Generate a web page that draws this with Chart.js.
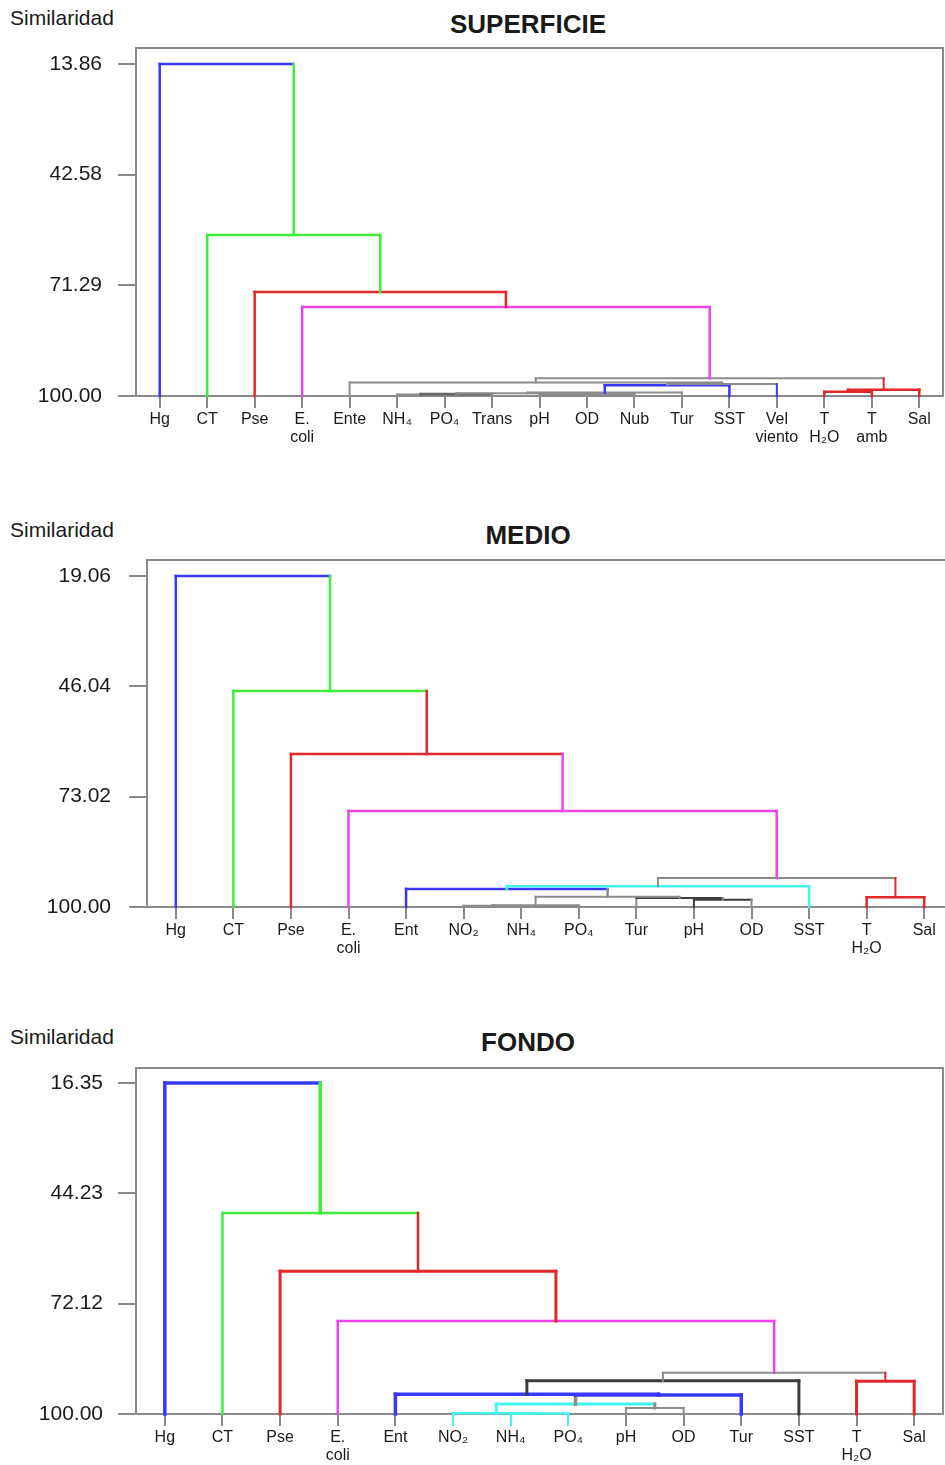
<!DOCTYPE html>
<html>
<head>
<meta charset="utf-8">
<script src="https://cdn.jsdelivr.net/npm/chart.js@4.4.1/dist/chart.umd.min.js"></script>
<style>
  html, body { margin: 0; padding: 0; background: #fff; overflow: hidden; }
  body { width: 945px; height: 1465px; position: relative; font-family: "Liberation Sans", Arial, sans-serif; color: #1a1a1a; }
  .lbl { position: absolute; left: 10px; font-size: 21px; line-height: 22px; white-space: nowrap; }
  .ttl { position: absolute; left: 328px; width: 400px; text-align: center; font-size: 26px; font-weight: bold; line-height: 28px; }
  .box { position: absolute; left: 0; }
</style>
</head>
<body>
<div class="lbl" style="top:7px">Similaridad</div>
<div class="ttl" style="top:10px">SUPERFICIE</div>
<div class="box" style="top:0px;width:945px;height:470px"><canvas id="sup"></canvas></div>

<div class="lbl" style="top:519px">Similaridad</div>
<div class="ttl" style="top:521px">MEDIO</div>
<div class="box" style="top:510px;width:960px;height:470px"><canvas id="med"></canvas></div>

<div class="lbl" style="top:1026px">Similaridad</div>
<div class="ttl" style="top:1028px">FONDO</div>
<div class="box" style="top:1020px;width:945px;height:445px"><canvas id="fon"></canvas></div>

<script>
// ---- data ----
// merges: [a, b, similarity]; negative = leaf (1-based), positive = earlier merge row (1-based)

const supLeaves = ['Hg', 'CT', 'Pse', ['E.', 'coli'], 'Ente', 'NH₄', 'PO₄', 'Trans', 'pH', 'OD', 'Nub', 'Tur', 'SST', ['Vel', 'viento'], ['T', 'H₂O'], ['T', 'amb'], 'Sal'];
const supTicks = [13.86, 42.58, 71.29, 100.00];
const supMerges = [
  [-6, -7, 99.6],
  [1, -8, 99.5],
  [-9, -10, 99.7],
  [3, -11, 99.5],
  [2, 4, 99.3],
  [5, -12, 99.1],
  [6, -13, 97.2],
  [7, -14, 96.9],
  [-5, 8, 96.5],
  [-15, -16, 98.9],
  [10, -17, 98.4],
  [9, 11, 95.4],
  [-4, 12, 76.9],
  [-3, 13, 73.0],
  [-2, 14, 58.2],
  [-1, 15, 13.86]
];

const medLeaves = ['Hg', 'CT', 'Pse', ['E.', 'coli'], 'Ent', 'NO₂', 'NH₄', 'PO₄', 'Tur', 'pH', 'OD', 'SST', ['T', 'H₂O'], 'Sal'];
const medTicks = [19.06, 46.04, 73.02, 100.00];
const medMerges = [
  [-6, -7, 99.7],
  [1, -8, 99.6],
  [-10, -11, 98.2],
  [-9, 3, 97.8],
  [2, 4, 97.5],
  [-5, 5, 95.6],
  [6, -12, 94.9],
  [-13, -14, 97.6],
  [7, 8, 92.9],
  [-4, 9, 76.5],
  [-3, 10, 62.6],
  [-2, 11, 47.2],
  [-1, 12, 19.06]
];

const fonLeaves = ['Hg', 'CT', 'Pse', ['E.', 'coli'], 'Ent', 'NO₂', 'NH₄', 'PO₄', 'pH', 'OD', 'Tur', 'SST', ['T', 'H₂O'], 'Sal'];
const fonTicks = [16.35, 44.23, 72.12, 100.00];
const fonMerges = [
  [-7, -8, 99.9],
  [-6, 1, 99.8],
  [-9, -10, 98.5],
  [2, 3, 97.5],
  [4, -11, 95.2],
  [-5, 5, 95.0],
  [6, -12, 91.6],
  [-13, -14, 91.7],
  [7, 8, 89.6],
  [-4, 9, 76.5],
  [-3, 10, 63.9],
  [-2, 11, 49.2],
  [-1, 12, 16.35]
];

// ---- styles ----
const B = '#3838ff', G = '#3cf03c', R = '#e02828', M = '#ee44ee', C = '#44f4f0';
const L = '#8c8c8c', D = '#3c3c3c', N = '#666666';

// colours per merge: [left leg, bar, right leg]
const supColors = [
  [L, L, L], [N, N, L], [L, L, L], [L, L, L], [L, L, L], [L, L, L],
  [B, B, B], [L, L, B], [L, L, L], [R, R, R], [R, R, R], [L, L, R],
  [M, M, M], [R, R, R], [G, G, G], [B, B, G]
];
const supWidths = [2, 2.5, 2, 2, 2, 2, 2.5, 2, 2, 2.5, 2.5, 2, 2.5, 2.5, 2.5, 2.5];

const medColors = [
  [L, L, L], [L, L, L], [D, D, L], [L, D, L], [L, L, L], [B, B, L],
  [C, C, C], [R, R, R], [L, L, R], [M, M, M], [R, R, M], [G, G, R], [B, B, G]
];
const medWidths = [2, 2, 2, 2, 2, 2.5, 2.5, 2.5, 2, 2.5, 2.5, 2.5, 2.5];

const fonColors = [
  [C, C, C], [C, C, C], [L, L, L], [C, C, L], [L, B, B], [B, B, B],
  [D, D, D], [R, R, R], [L, L, R], [M, M, M], [R, R, R], [G, G, R], [B, B, G]
];
const fonWidths = [2.5, 2.5, 2, 3, 3.5, 3.5, 3, 3, 2, 2.5, 3, 2.5, 3.5];

const FRAME = '#8a8a8a';
const FONT = '"Liberation Sans", Arial, sans-serif';

function buildLinks(merges, colors, widths) {
  const nx = [], nh = [];
  const at = ref => ref < 0 ? [-ref - 1, 100] : [nx[ref - 1], nh[ref - 1]];
  const sets = [];
  const seg = (pts, color, w) => ({
    data: pts.map(p => ({ x: p[0], y: p[1] })),
    borderColor: color, borderWidth: w, showLine: true,
    pointRadius: 0, fill: false, tension: 0, clip: false,
    borderCapStyle: 'square', borderJoinStyle: 'miter'
  });
  merges.forEach(([a, b, s], i) => {
    const [xa, ha] = at(a), [xb, hb] = at(b);
    nx[i] = (xa + xb) / 2;
    nh[i] = s;
    const [cl, cb, cr] = colors[i];
    sets.push(seg([[xa, ha], [xa, s]], cl, widths[i]));
    sets.push(seg([[xa, s], [xb, s]], cb, widths[i]));
    sets.push(seg([[xb, s], [xb, hb]], cr, widths[i]));
  });
  return sets.reverse();
}

function dendro(id, leaves, ticks, merges, colors, widths, box) {
  const fixW = w => s => { s.width = w; };
  const fixH = h => s => { s.height = h; };
  new Chart(document.getElementById(id), {
    type: 'scatter',
    data: { datasets: buildLinks(merges, colors, widths) },
    options: {
      responsive: true,
      maintainAspectRatio: false,
      animation: false,
      events: [],
      layout: { padding: { top: box.top, right: box.right, left: 0, bottom: 0 } },
      plugins: { legend: { display: false }, tooltip: { enabled: false }, title: { display: false } },
      scales: {
        x: {
          type: 'linear', position: 'bottom',
          min: -0.5, max: leaves.length - 0.5,
          afterBuildTicks: s => { s.ticks = leaves.map((_, i) => ({ value: i })); },
          afterFit: fixH(box.xh),
          ticks: {
            autoSkip: false, maxRotation: 0, padding: 3,
            color: '#1a1a1a', font: { family: FONT, size: 16, lineHeight: 1.125 },
            callback: (v, i) => leaves[i]
          },
          grid: {
            drawOnChartArea: false, drawTicks: true, tickLength: 12, lineWidth: 2,
            color: ctx => (box.cyanTicks || []).includes(ctx.index) ? C : FRAME
          },
          border: { display: true, color: FRAME, width: 2 }
        },
        xTop: {
          type: 'linear', position: 'top', min: 0, max: 1,
          afterFit: fixH(0),
          ticks: { display: false },
          grid: { display: false },
          border: { display: true, color: FRAME, width: 2 }
        },
        y: {
          type: 'linear', position: 'left', reverse: true,
          min: box.ymin, max: 100,
          afterBuildTicks: s => { s.ticks = ticks.map(v => ({ value: v })); },
          afterFit: fixW(box.left),
          ticks: {
            padding: box.ypad, color: '#1a1a1a',
            font: { family: FONT, size: 21 },
            callback: v => v.toFixed(2)
          },
          grid: { drawOnChartArea: false, drawTicks: true, tickLength: 18, lineWidth: 2, color: FRAME },
          border: { display: true, color: FRAME, width: 2 }
        },
        yRight: {
          type: 'linear', position: 'right', min: 0, max: 1,
          afterFit: fixW(0),
          ticks: { display: false },
          grid: { display: false },
          border: { display: true, color: FRAME, width: 2 }
        }
      }
    }
  });
}

dendro('sup', supLeaves, supTicks, supMerges, supColors, supWidths,
  { top: 48, right: 2, left: 136, xh: 74, ymin: 9.71, ypad: 16 });
dendro('med', medLeaves, medTicks, medMerges, medColors, medWidths,
  { top: 50, right: 7, left: 147, xh: 73, ymin: 15.15, ypad: 18 });
dendro('fon', fonLeaves, fonTicks, fonMerges, fonColors, fonWidths,
  { top: 48, right: 2, left: 136, xh: 51, ymin: 12.56, ypad: 15, cyanTicks: [5, 6, 7] });
</script>
</body>
</html>
